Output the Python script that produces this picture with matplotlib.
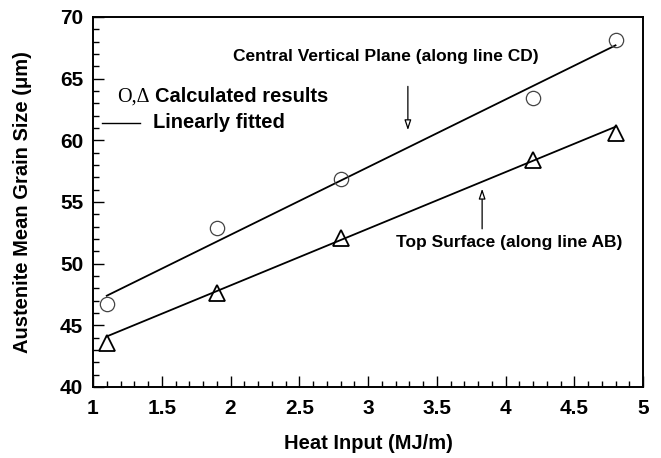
import matplotlib
matplotlib.use("Agg")
import matplotlib.pyplot as plt
from matplotlib.ticker import MultipleLocator
from matplotlib.lines import Line2D

# ---- data ----
heat_input = [1.1, 1.9, 2.8, 4.2, 4.8]
grain_cd = [46.7, 52.9, 56.9, 63.4, 68.1]   # circles: central vertical plane
grain_ab = [43.6, 47.6, 52.1, 58.4, 60.6]   # triangles: top surface
fit_x = [1.1, 4.8]
fit_cd = [47.4, 67.7]
fit_ab = [44.1, 61.1]

xticks = [1, 1.5, 2, 2.5, 3, 3.5, 4, 4.5, 5]
xticklabels = ['1', '1.5', '2', '2.5', '3', '3.5', '4', '4.5', '5']
xlabel = "Heat Input (MJ/m)"
ylabel = "Austenite Mean Grain Size (\u03bcm)"

plt.rcParams['font.family'] = ['Liberation Sans', 'DejaVu Sans']
plt.rcParams['font.weight'] = 'bold'

fig = plt.figure(figsize=(6.61, 4.58), dpi=100)
ax = fig.add_axes([93/661, 1-387/458, 550/661, 370/458])

ax.plot(fit_x, fit_cd, color='black', lw=1.3)
ax.plot(fit_x, fit_ab, color='black', lw=1.3)
ax.plot(heat_input, grain_cd, linestyle='none', marker='o', ms=10.3,
        mfc='none', mec='#444444', mew=0.9)
ax.plot(heat_input, grain_ab, linestyle='none', marker='^', ms=11.5,
        mfc='none', mec='black', mew=1.3)

ax.set_xlim(1, 5)
ax.set_ylim(40, 70)
ax.xaxis.set_minor_locator(MultipleLocator(0.1))
ax.yaxis.set_major_locator(MultipleLocator(5))
ax.yaxis.set_minor_locator(MultipleLocator(1))
ax.set_xticks(xticks)
ax.set_xticklabels(xticklabels, fontweight='bold')
ax.tick_params(which='both', direction='in', top=False, right=False, width=1.0)
ax.tick_params(which='major', length=8, labelsize=15)
ax.tick_params(axis='x', which='major', pad=9)
ax.tick_params(axis='y', which='major', pad=7)
ax.tick_params(which='minor', length=4.5)
for lab in ax.get_xticklabels() + ax.get_yticklabels():
    lab.set_fontweight('bold')
for s in ax.spines.values():
    s.set_linewidth(1.4)

ax.set_xlabel(xlabel, fontsize=14.5, fontweight='bold', labelpad=11)
ax.set_ylabel(ylabel, fontsize=14.5, fontweight='bold', labelpad=20)

# annotations
ax.text(3.13, 66.8, "Central Vertical Plane (along line CD)", ha='center',
        va='center', fontsize=12.5, fontweight='bold')
ax.annotate("", xy=(3.29, 60.6), xytext=(3.29, 64.6),
            arrowprops=dict(arrowstyle='-|>,head_length=0.6,head_width=0.2',
                            fc='white', ec='black', lw=0.9))
ax.text(4.03, 51.7, "Top Surface (along line AB)", ha='center',
        va='center', fontsize=12.5, fontweight='bold')
ax.annotate("", xy=(3.83, 56.3), xytext=(3.83, 52.6),
            arrowprops=dict(arrowstyle='-|>,head_length=0.6,head_width=0.2',
                            fc='white', ec='black', lw=0.9))

# legend-like texts
ax.text((117-93)/550, (387-97)/370, "O,\u0394", transform=ax.transAxes,
        ha='left', va='center', fontsize=14.5, fontweight='normal',
        family=['Liberation Serif', 'DejaVu Serif'])
ax.text((155-93)/550, (387-97)/370, "Calculated results", transform=ax.transAxes,
        ha='left', va='center', fontsize=14.5, fontweight='bold')
ax.add_line(Line2D([(102-93)/550, (140-93)/550], [(387-123)/370]*2,
                   transform=ax.transAxes, color='black', lw=1.0))
ax.text((153-93)/550, (387-123)/370, "Linearly fitted", transform=ax.transAxes,
        ha='left', va='center', fontsize=14.5, fontweight='bold')

fig.savefig("out.png", dpi=100)
